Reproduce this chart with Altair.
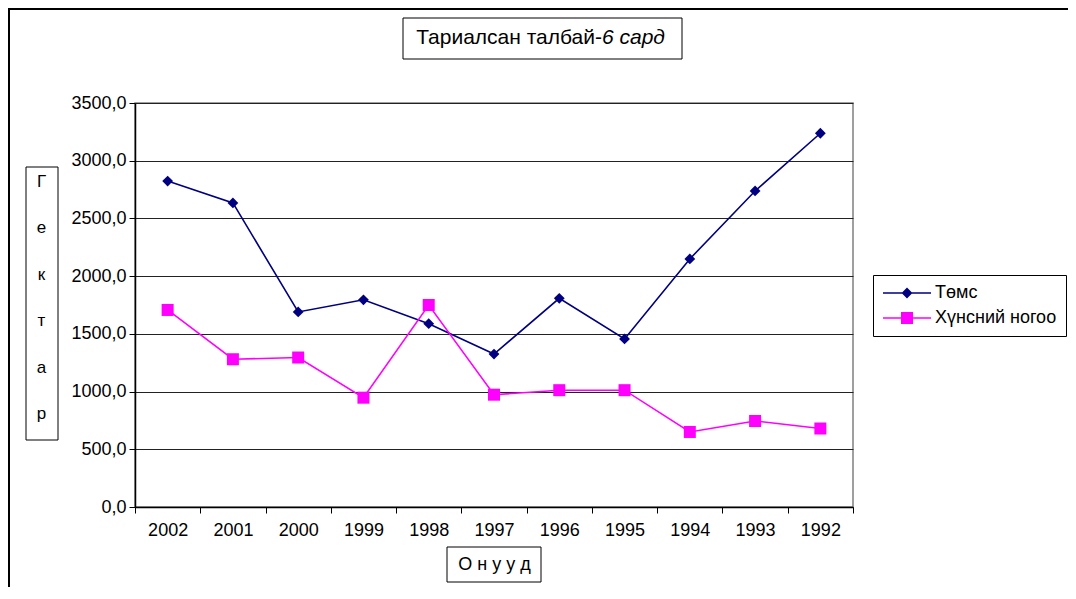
import altair as alt
import pandas as pd

# ---- data ----
years = ["2002", "2001", "2000", "1999", "1998", "1997", "1996", "1995", "1994", "1993", "1992"]
potato = [2824, 2634, 1690, 1795, 1588, 1325, 1808, 1456, 2149, 2738, 3238]
vegetables = [1707, 1280, 1295, 947, 1750, 973, 1012, 1012, 650, 745, 680]
series_names = ["Төмс", "Хүнсний ногоо"]
series_colors = ["#000080", "#FF00FF"]
y_ticks = [0, 500, 1000, 1500, 2000, 2500, 3000, 3500]

title_main = "Тариалсан талбай-"
title_italic = "6 сард"
y_title_letters = ["Г", "е", "к", "т", "а", "р"]
x_title = "О н у у д"

FONT = "Liberation Sans"

df = pd.DataFrame({
    "year": years * 2,
    "value": potato + vegetables,
    "series": [series_names[0]] * len(years) + [series_names[1]] * len(years),
})

# marker shapes (custom paths; unit = sqrt(size)/2)
diamond = "M0,-0.9L0.9,0L0,0.9L-0.9,0Z"
square = "M-1,-1H1V1H-1Z"
bar = "M-4,-0.13H4V0.13H-4Z "
legend_shapes = [bar + diamond, bar + square]

x_enc = alt.X(
    "year:N", sort=years,
    scale=alt.Scale(type="band", paddingInner=0, paddingOuter=0),
    axis=alt.Axis(
        title=x_title, labelAngle=0, tickBand="extent", tickSize=6, labelPadding=8,
        grid=False, titleY=57, titleBaseline="middle", titleFontSize=18,
        titleFontWeight="normal", domainWidth=1.5,
    ),
)
y_enc = alt.Y(
    "value:Q",
    scale=alt.Scale(domain=[0, 3500], nice=False),
    axis=alt.Axis(
        values=y_ticks, labelExpr="replace(format(datum.value, '.1f'), '.', ',')",
        title=y_title_letters, titleAngle=0, titleX=-94, titleY=78,
        titleAlign="center", titleBaseline="middle", titleLineHeight=46.5,
        titleFontSize=17, titleFontWeight="normal",
        tickSize=6, labelPadding=3, grid=True, gridColor="#222222", gridWidth=1,
        domainWidth=1.5,
    ),
)
color_scale = alt.Scale(domain=series_names, range=series_colors)

lines = alt.Chart(df).mark_line(strokeWidth=1.6).encode(
    x=x_enc, y=y_enc,
    color=alt.Color("series:N", scale=color_scale, legend=None),
)

points = alt.Chart(df).mark_point(filled=True, opacity=1, size=144).encode(
    x=x_enc, y=y_enc,
    color=alt.Color("series:N", scale=color_scale, legend=None),
    shape=alt.Shape("series:N", scale=alt.Scale(domain=series_names, range=[diamond, square]), legend=None),
)

leg = alt.Legend(
    orient="none", legendX=738, legendY=172, title=None,
    padding=9, strokeColor="black", fillColor="white",
    symbolOffset=16, labelOffset=19, labelFontSize=18, labelFont=FONT, labelColor="black",
    symbolSize=144, symbolStrokeWidth=0, symbolOpacity=1, rowPadding=7,
)
legend_layer = alt.Chart(df).mark_point(filled=True, opacity=0, size=144).encode(
    x=x_enc, y=y_enc,
    color=alt.Color("series:N", scale=color_scale, legend=leg),
    shape=alt.Shape("series:N", scale=alt.Scale(domain=series_names, range=legend_shapes), legend=leg),
)

one = alt.Data(values=[{}])

# decorative frames
frame = alt.Chart(one).mark_rect(fillOpacity=0, stroke="black", strokeWidth=2).encode(
    x=alt.value(-126), y=alt.value(-94), x2=alt.value(3000), y2=alt.value(3000))
title_box = alt.Chart(one).mark_rect(fill="white", stroke="black", strokeWidth=1).encode(
    x=alt.value(268), y=alt.value(-85), x2=alt.value(547), y2=alt.value(-44))
ytitle_box = alt.Chart(one).mark_rect(fillOpacity=0, stroke="black", strokeWidth=1).encode(
    x=alt.value(-109), y=alt.value(64), x2=alt.value(-77), y2=alt.value(337))
xtitle_box = alt.Chart(one).mark_rect(fillOpacity=0, stroke="black", strokeWidth=1).encode(
    x=alt.value(312), y=alt.value(444), x2=alt.value(406), y2=alt.value(479))

title_a = alt.Chart(one).mark_text(
    align="right", baseline="middle", fontSize=21, font=FONT, color="black", text=title_main
).encode(x=alt.value(467), y=alt.value(-65))
title_b = alt.Chart(one).mark_text(
    align="left", baseline="middle", fontSize=21, font=FONT, fontStyle="italic", color="black", text=title_italic
).encode(x=alt.value(467), y=alt.value(-65))

chart = alt.layer(
    frame, title_box, ytitle_box, xtitle_box, title_a, title_b, lines, points, legend_layer
).resolve_scale(
    color="independent", shape="independent"
).properties(
    width=718, height=404,
    autosize=alt.AutoSizeParams(type="none"),
    padding={"left": 127, "top": 95, "right": 215, "bottom": 80},
).configure_axis(
    labelFont=FONT, titleFont=FONT, labelFontSize=18, labelColor="black",
    titleColor="black", domainColor="black", tickColor="black",
).configure_view(
    stroke="#808080", strokeWidth=1.5,
)

chart.save("out.html", embed_options={"renderer": "svg", "actions": False})
